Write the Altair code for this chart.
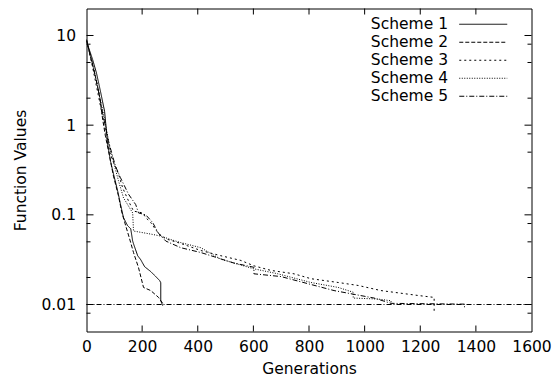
import altair as alt
import pandas as pd

schemes = ["Scheme 1", "Scheme 2", "Scheme 3", "Scheme 4", "Scheme 5"]

s1_gen = [0, 22, 36, 50, 65, 76, 86, 97, 112, 122, 133, 148, 159, 166, 169, 184, 195, 209, 231, 249, 263, 267, 267, 274]
s1_val = [8.6, 5.4, 3.8, 2.4, 1.43, 0.62, 0.40, 0.286, 0.185, 0.132, 0.093, 0.0755, 0.070, 0.051, 0.0476, 0.035, 0.0316, 0.0264, 0.0233, 0.0205, 0.0185, 0.0175, 0.011, 0.0097]

s2_gen = [0, 14, 32, 47, 58, 68, 83, 97, 115, 126, 141, 155, 169, 187, 205, 231, 259, 274]
s2_val = [9.0, 5.8, 3.5, 2.1, 1.17, 0.755, 0.45, 0.27, 0.163, 0.11, 0.0755, 0.054, 0.038, 0.0258, 0.0155, 0.0143, 0.012, 0.0103]

s3_gen = [0, 18, 36, 54, 72, 86, 115, 130, 151, 169, 202, 213, 231, 245, 259, 285, 339, 411, 483, 555, 602, 663, 746, 807, 905, 977, 1059, 1193, 1250, 1250, 1250]
s3_val = [9.0, 5.1, 2.7, 1.43, 0.755, 0.47, 0.286, 0.2, 0.143, 0.11, 0.105, 0.093, 0.082, 0.071, 0.062, 0.054, 0.048, 0.040, 0.035, 0.031, 0.027, 0.024, 0.022, 0.0194, 0.0176, 0.0163, 0.0143, 0.0126, 0.012, 0.0103, 0.0080]

s4_gen = [0, 22, 43, 65, 86, 115, 133, 166, 169, 231, 267, 303, 339, 411, 483, 602, 688, 807, 905, 959, 959, 1049, 1095, 1095]
s4_val = [8.6, 4.9, 2.4, 1.17, 0.52, 0.24, 0.155, 0.105, 0.066, 0.061, 0.058, 0.053, 0.049, 0.043, 0.032, 0.025, 0.022, 0.0176, 0.0155, 0.0137, 0.0118, 0.0115, 0.011, 0.0100]

s5_gen = [0, 18, 40, 58, 79, 104, 122, 151, 177, 187, 213, 238, 259, 285, 339, 411, 530, 602, 602, 699, 890, 1034, 1095, 1359, 1359]
s5_val = [8.8, 5.4, 2.7, 1.36, 0.66, 0.35, 0.26, 0.17, 0.13, 0.105, 0.1, 0.082, 0.062, 0.051, 0.043, 0.038, 0.029, 0.026, 0.022, 0.0205, 0.0143, 0.0118, 0.0103, 0.0101, 0.0092]

target_val = [0.01]

x_ticks = [0, 200, 400, 600, 800, 1000, 1200, 1400, 1600]
y_major = [0.01, 0.1, 1, 10]
y_minor = [0.008, 0.02, 0.05, 0.08, 0.2, 0.5, 0.8, 2, 5, 8]

series = [(schemes[0], s1_gen, s1_val), (schemes[1], s2_gen, s2_val),
          (schemes[2], s3_gen, s3_val), (schemes[3], s4_gen, s4_val),
          (schemes[4], s5_gen, s5_val)]
rows = []
for name, gens, vals in series:
    for i, (g, v) in enumerate(zip(gens, vals)):
        rows.append({"scheme": name, "gen": g, "val": v, "order": i})
df = pd.DataFrame(rows)

W, H = 445, 323
FONT = "DejaVu Sans"
FS = 15.5

x_scale = alt.Scale(domain=[0, 1600], nice=False, zero=False)
y_scale = alt.Scale(type="log", domain=[0.005, 20], nice=False)

x_axis = alt.Axis(title="Generations", values=x_ticks, format="d", ticks=False,
                  domain=False, grid=False, labelPadding=8, labelFontSize=FS,
                  labelFont=FONT, titleFont=FONT, titleFontSize=FS,
                  titleFontWeight="normal", titlePadding=6, labelColor="black",
                  titleColor="black", labelFlush=False)
y_axis = alt.Axis(title="Function Values", values=y_major, format="~g", ticks=False,
                  domain=False, grid=False, labelPadding=11, labelFontSize=FS,
                  labelFont=FONT, titleFont=FONT, titleFontSize=FS,
                  titleFontWeight="normal", titlePadding=12, labelColor="black",
                  titleColor="black")

dash_range = [[1, 0], [4, 2], [2, 3], [1, 1.5], [5, 2, 1, 2]]

lines = alt.Chart(df).mark_line(strokeWidth=1, color="black", clip=True).encode(
    x=alt.X("gen:Q", scale=x_scale, axis=x_axis),
    y=alt.Y("val:Q", scale=y_scale, axis=y_axis),
    strokeDash=alt.StrokeDash("scheme:N", scale=alt.Scale(domain=schemes, range=dash_range),
                              legend=alt.Legend(title=None, orient="none", legendX=389, legendY=8,
                                                symbolType="M-10,0H10",
                                                symbolSize=23, symbolStrokeWidth=1,
                                                symbolStrokeColor="black", labelAlign="right",
                                                labelOffset=alt.ExprRef(expr="-43"),
                                                labelFont=FONT, labelFontSize=FS,
                                                labelColor="black",
                                                rowPadding=1, padding=0)),
    order="order:Q",
)

target = alt.Chart(pd.DataFrame({"val": target_val})).mark_rule(
    color="black", strokeWidth=1, strokeDash=[5, 2, 1, 2]).encode(
    y=alt.Y("val:Q", scale=y_scale, axis=y_axis))

ymaj = pd.DataFrame({"val": y_major})
ymin = pd.DataFrame({"val": y_minor})
xt = pd.DataFrame({"gen": x_ticks[1:-1]})

def yticks(data, length):
    left = alt.Chart(data).mark_rule(color="black", strokeWidth=1).encode(
        y=alt.Y("val:Q", scale=y_scale, axis=y_axis), x=alt.value(0), x2=alt.value(length))
    right = alt.Chart(data).mark_rule(color="black", strokeWidth=1).encode(
        y=alt.Y("val:Q", scale=y_scale, axis=y_axis), x=alt.value(W), x2=alt.value(W - length))
    return [left, right]

xbot = alt.Chart(xt).mark_rule(color="black", strokeWidth=1).encode(
    x=alt.X("gen:Q", scale=x_scale, axis=x_axis), y=alt.value(H), y2=alt.value(H - 6))
xtop = alt.Chart(xt).mark_rule(color="black", strokeWidth=1).encode(
    x=alt.X("gen:Q", scale=x_scale, axis=x_axis), y=alt.value(0), y2=alt.value(6))

chart = alt.layer(lines, target, *yticks(ymaj, 7), *yticks(ymin, 4), xbot, xtop).properties(
    width=W, height=H,
    autosize=alt.AutoSizeParams(type="none"),
    padding={"left": 78.5, "top": 0.5, "right": 20, "bottom": 45},
).configure(background="white").configure_view(stroke="black", strokeWidth=1)

chart.save("out.html", embed_options={"renderer": "svg", "actions": False})
